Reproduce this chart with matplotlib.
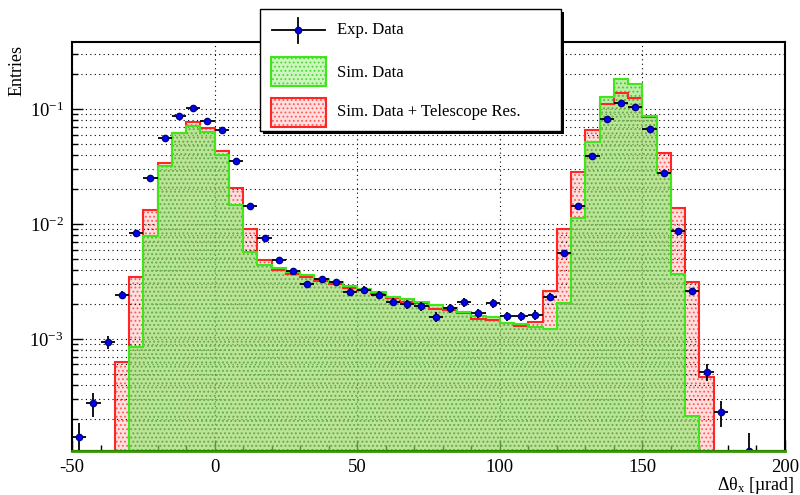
import numpy as np
import matplotlib
matplotlib.use('Agg')
import matplotlib.pyplot as plt
from matplotlib.patches import Rectangle
from matplotlib.lines import Line2D
from matplotlib.ticker import MultipleLocator, LogLocator, NullFormatter

# binning: 5 urad bins from -50 to 200
bin_lo = -50
bin_hi = 200
bin_w = 5
edges = np.arange(bin_lo, bin_hi + bin_w, bin_w)
centers = edges[:-1] + bin_w / 2.0

# experimental data (0 = empty bin)
exp_vals = [1.41e-4, 2.75e-4, 9.4e-4, 2.42e-3, 8.35e-3, 0.0252, 0.0558, 0.0875, 0.1014, 0.0792,
	0.0657, 0.0353, 0.01435, 0.0076, 0.00486, 0.0039, 0.0030, 0.0033, 0.00313, 0.00258,
	0.00268, 0.00241, 0.0021, 0.0020, 0.00193, 0.00155, 0.00186, 0.00208, 0.00167, 0.00204,
	0.00157, 0.00157, 0.00162, 0.00232, 0.0056, 0.0144, 0.039, 0.0813, 0.1135, 0.1047,
	0.0674, 0.0279, 0.00863, 0.0026, 5.2e-4, 2.3e-4, 0, 1.07e-4, 0, 0]
exp_err = [4.6e-5, 6.4e-5, 1.19e-4, 1.9e-4, 3.5e-4, 6.2e-4, 9.2e-4, 1.15e-3, 1.23e-3, 1.09e-3,
	9.9e-4, 7.3e-4, 4.6e-4, 3.4e-4, 2.7e-4, 2.4e-4, 2.1e-4, 2.2e-4, 2.2e-4, 2.0e-4,
	2.0e-4, 1.9e-4, 1.8e-4, 1.7e-4, 1.7e-4, 1.5e-4, 1.7e-4, 1.8e-4, 1.6e-4, 1.7e-4,
	1.5e-4, 1.5e-4, 1.6e-4, 1.9e-4, 2.9e-4, 4.6e-4, 7.6e-4, 1.1e-3, 1.3e-3, 1.25e-3,
	1.0e-3, 6.5e-4, 3.6e-4, 2.0e-4, 8.8e-5, 5.9e-5, 0, 4.5e-5, 0, 0]

# simulation
sim_vals = [0, 0, 0, 0, 8.57e-4, 7.87e-3, 0.0321, 0.0615, 0.0711, 0.063,
	0.0398, 0.0146, 0.00574, 0.0044, 0.00411, 0.0038, 0.0036, 0.0033, 0.00312, 0.00291,
	0.00272, 0.00255, 0.00233, 0.00221, 0.00211, 0.00198, 0.00185, 0.0017, 0.00158, 0.00156,
	0.00139, 0.00134, 0.00128, 0.00121, 0.00204, 0.0112, 0.0513, 0.128, 0.181, 0.164,
	0.0875, 0.0276, 0.00365, 2.15e-4, 0, 0, 0, 0, 0, 0]

# simulation + telescope resolution
sim_res_vals = [0, 0, 0, 6.27e-4, 3.44e-3, 0.0132, 0.0341, 0.062, 0.0766, 0.0689,
	0.0435, 0.0204, 0.009, 0.00486, 0.00398, 0.00367, 0.00344, 0.00322, 0.0030, 0.00277,
	0.00267, 0.00245, 0.00226, 0.00211, 0.00204, 0.00183, 0.00179, 0.00167, 0.0015, 0.00146,
	0.00137, 0.0013, 0.00141, 0.00263, 0.009, 0.0282, 0.0656, 0.1105, 0.137, 0.125,
	0.0857, 0.0412, 0.0139, 0.00311, 4.7e-4, 0, 0, 0, 0, 0]

y_lo = 1.06e-4
y_hi = 0.383

red_face = (1.0, 0.87, 0.87)
red_hatch = (1.0, 0.35, 0.35)
red_edge = (1.0, 0.15, 0.15)
green_face = (0.55, 0.92, 0.42, 0.62)
green_hatch = (0.42, 0.68, 0.32)
green_edge = (0.25, 0.9, 0.1)

plt.rcParams['font.family'] = ['Liberation Serif', 'DejaVu Serif']
plt.rcParams['mathtext.fontset'] = 'custom'
plt.rcParams['mathtext.rm'] = 'Liberation Serif'
plt.rcParams['mathtext.it'] = 'Liberation Serif:italic'
plt.rcParams['axes.unicode_minus'] = False
plt.rcParams['hatch.linewidth'] = 0.8


def fx(px):
	return px / 800.0


def fy(py):
	return 1.0 - py / 495.0


def draw_hist(ax, vals, face, hatch_col, z):
	v = np.array(vals, dtype=float)
	v = np.where(v > 0, v, y_lo)
	ax.stairs(v, edges, baseline=y_lo, fill=True, facecolor=face, edgecolor='none',
		linewidth=0, zorder=z)
	ax.stairs(v, edges, baseline=y_lo, fill=True, facecolor='none', edgecolor=hatch_col,
		hatch='....', linewidth=0, zorder=z)
	return v


fig = plt.figure(figsize=(8, 4.95), dpi=100)
ax = fig.add_axes([fx(72), fy(451), (785 - 72) / 800.0, (451 - 42) / 495.0])
ax.set_yscale('log')

red_v = draw_hist(ax, sim_res_vals, red_face, red_hatch, 2)
green_v = draw_hist(ax, sim_vals, green_face, green_hatch, 3)
ax.stairs(red_v, edges, baseline=None, color=red_edge, linewidth=1.5, zorder=4)
ax.stairs(green_v, edges, baseline=None, color=green_edge, linewidth=1.5, zorder=5)
ax.plot([bin_lo, bin_hi], [y_lo, y_lo], color=(0.2, 0.6, 0.0), linewidth=2, zorder=8, clip_on=False)

ev = np.array(exp_vals, dtype=float)
ee = np.array(exp_err, dtype=float)
ev[ev == 0] = np.nan
ax.errorbar(centers, ev, yerr=ee, xerr=bin_w / 2.0, fmt='o', ecolor='black', elinewidth=1.3,
	capsize=0, markersize=4.5, markerfacecolor='blue', markeredgecolor='#000080', zorder=6)

ax.set_xlim(bin_lo, bin_hi)
ax.set_ylim(y_lo, y_hi)

ax.xaxis.set_major_locator(MultipleLocator(50))
ax.xaxis.set_minor_locator(MultipleLocator(10))
ax.yaxis.set_major_locator(LogLocator(base=10))
ax.yaxis.set_minor_locator(LogLocator(base=10, subs=np.arange(2, 10)))
ax.yaxis.set_minor_formatter(NullFormatter())

ax.tick_params(which='both', direction='in', top=False, right=False)
ax.tick_params(which='major', length=8, width=1.0, labelsize=13.5, pad=6)
ax.tick_params(which='minor', length=4.5, width=1.0)

ax.grid(True, which='both', axis='y', color='black', linestyle=(0, (1, 3)), linewidth=0.8)
ax.grid(True, which='major', axis='x', color='black', linestyle=(0, (1, 3)), linewidth=0.8)
ax.set_axisbelow(False)
for s in ax.spines.values():
	s.set_linewidth(1.5)
	s.set_zorder(7)

fig.text(fx(795), fy(485), 'Δθ$_{\\mathrm{x}}$ [µrad]', ha='right', va='center', size=13)
fig.text(fx(17), fy(45), 'Entries', rotation=90, ha='center', va='top', size=13)

# legend box with shadow
fig.add_artist(Rectangle((fx(263), fy(134)), (564 - 263) / 800.0, (134 - 12) / 495.0,
	facecolor='black', edgecolor='none', transform=fig.transFigure, zorder=10))
fig.add_artist(Rectangle((fx(260), fy(131)), (561 - 260) / 800.0, (131 - 9) / 495.0,
	facecolor='white', edgecolor='black', linewidth=1.0, transform=fig.transFigure, zorder=11))

fig.add_artist(Line2D([fx(272), fx(325)], [fy(30), fy(30)], color='black', linewidth=1.3,
	transform=fig.transFigure, zorder=12))
fig.add_artist(Line2D([fx(298), fx(298)], [fy(18), fy(43)], color='black', linewidth=1.3,
	transform=fig.transFigure, zorder=12))
fig.add_artist(Line2D([fx(298)], [fy(30)], marker='o', markersize=4.5, markerfacecolor='blue',
	markeredgecolor='#000080', linestyle='none', transform=fig.transFigure, zorder=13))
for (top, face, hcol, edge) in [(57, (0.8, 0.96, 0.75), (0.3, 0.85, 0.2), green_edge),
		(98, red_face, red_hatch, red_edge)]:
	fig.add_artist(Rectangle((fx(271), fy(top + 29)), 55 / 800.0, 29 / 495.0, facecolor=face,
		edgecolor='none', transform=fig.transFigure, zorder=12))
	fig.add_artist(Rectangle((fx(271), fy(top + 29)), 55 / 800.0, 29 / 495.0, facecolor='none',
		edgecolor=hcol, hatch='....', linewidth=0, transform=fig.transFigure, zorder=12))
	fig.add_artist(Rectangle((fx(271), fy(top + 29)), 55 / 800.0, 29 / 495.0, facecolor='none',
		edgecolor=edge, linewidth=1.5, transform=fig.transFigure, zorder=13))

labels = ['Exp. Data', 'Sim. Data', 'Sim. Data + Telescope Res.']
label_y = [30, 73, 112]
for t, yy in zip(labels, label_y):
	fig.text(fx(337), fy(yy), t, ha='left', va='center', size=12, zorder=13)

fig.savefig('out.png', dpi=100)
